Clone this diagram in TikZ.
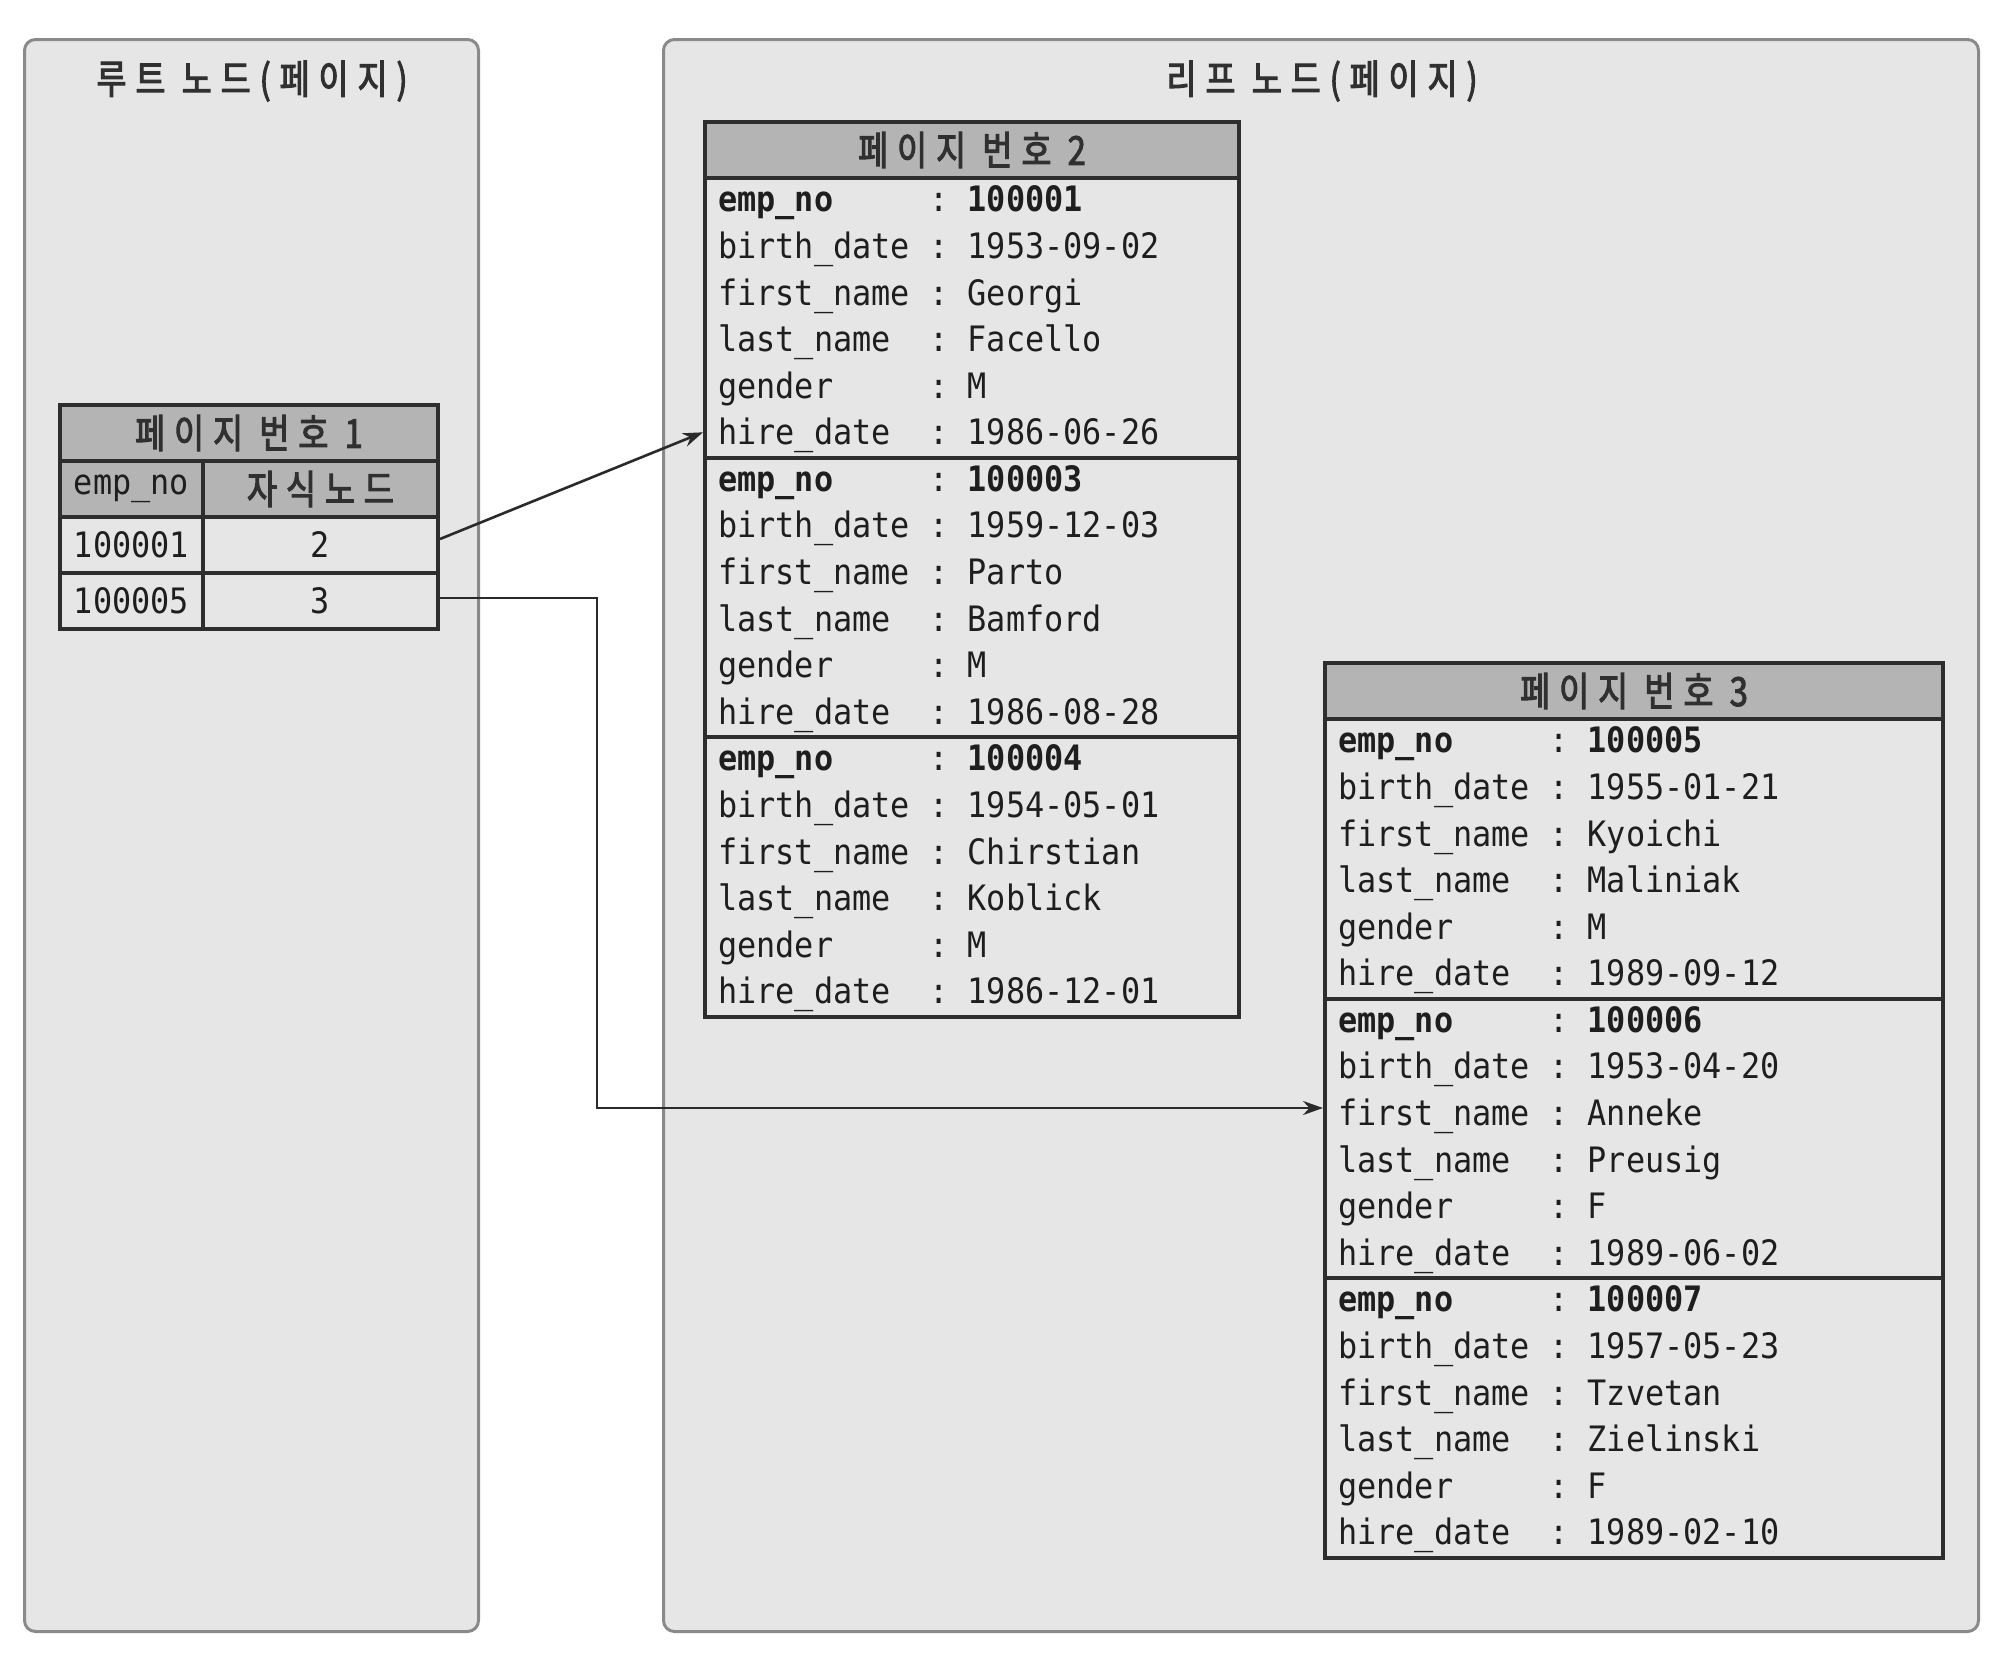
\documentclass[tikz,border=0pt]{standalone}
\usepackage{fontspec}
\usetikzlibrary{arrows.meta}
\newfontfamily\krfont[FakeStretch=0.82, FakeBold=2.5, LetterSpace=22]{Noto Sans CJK KR}
\newfontfamily\monofont[FakeStretch=0.91]{DejaVu Sans Mono}
\definecolor{panelfill}{HTML}{E6E6E6}
\definecolor{panelline}{HTML}{8A8A8A}
\definecolor{tblline}{HTML}{2E2E2E}
\definecolor{hdrfill}{HTML}{B4B4B4}
\definecolor{txt}{HTML}{1E1E1E}
\definecolor{ttl}{HTML}{303030}
\definecolor{connc}{HTML}{2A2A2A}
\tikzset{
  panel/.style={draw=panelline, fill=panelfill, line width=3pt, rounded corners=11pt, inner sep=0pt, anchor=north west},
  tbl/.style={draw=tblline, fill=panelfill, line width=4pt, inner sep=0pt, anchor=north west, text=txt},
  hdr/.style={tbl, fill=hdrfill},
  celltext/.style={font=\monofont\fontsize{35}{40}\selectfont},
  krtext/.style={font=\krfont\fontsize{40}{44}\selectfont, text=ttl},
  ttltext/.style={font=\krfont\fontsize{40}{44}\selectfont, text=ttl, inner sep=0pt},
  ln/.style={anchor=west, inner sep=0pt, text height=30pt, text depth=5pt, text=txt,
    font=\monofont\fontsize{35}{40}\selectfont},
  conn/.style={draw=connc, line width=2.6pt, -{Stealth[length=20pt,width=14pt]}},
}
\newcommand\mkrec[5]{%
  \node[tbl, minimum width=#4pt, minimum height=279.5pt] (#1) at (#2,#3) {};
  \foreach [count=\i] \k/\v in {#5} {
    \node[ln] (#1l\i) at ({#2+15},{#3+23.3+46.6*(\i-1)})
      {\makebox[211pt][l]{\k}\makebox[38.5pt][l]{:}\v};
  }
}
\begin{document}
\begin{tikzpicture}[x=1pt,y=-1pt]
\useasboundingbox (0,0) rectangle (2000,1655);
\fill[white] (0,0) rectangle (2000,1655);

% panels
\node[panel, minimum width=454pt, minimum height=1592pt] (lp) at (23,38) {};
\node[panel, minimum width=1315pt, minimum height=1592pt] (rp) at (662,38) {};
\node[ttltext] (t1) at (252,81) {루트 노드(페이지)};
\node[ttltext] (t2) at (1322,81) {리프 노드(페이지)};

% page 1
\node[hdr, krtext, minimum width=378pt, minimum height=56pt] (p1h) at (58,403) {페이지 번호 1};
\node[hdr, celltext, minimum width=143pt, minimum height=56pt] (c21) at (58,459) {emp\_no};
\node[hdr, krtext, minimum width=235pt, minimum height=56pt] (c22) at (201,459) {자식노드};
\node[tbl, celltext, minimum width=143pt, minimum height=56pt] (c31) at (58,515) {100001};
\node[tbl, celltext, minimum width=235pt, minimum height=56pt] (c32) at (201,515) {2};
\node[tbl, celltext, minimum width=143pt, minimum height=56pt] (c41) at (58,571) {100005};
\node[tbl, celltext, minimum width=235pt, minimum height=56pt] (c42) at (201,571) {3};

% page 2
\node[hdr, krtext, minimum width=534pt, minimum height=56pt] (p2h) at (703,120) {페이지 번호 2};
\mkrec{r21}{703}{176}{534}{{\bfseries emp\_no}/{\bfseries 100001}, birth\_date/1953-09-02, first\_name/Georgi, last\_name/Facello, gender/M, hire\_date/1986-06-26}
\mkrec{r22}{703}{455.5}{534}{{\bfseries emp\_no}/{\bfseries 100003}, birth\_date/1959-12-03, first\_name/Parto, last\_name/Bamford, gender/M, hire\_date/1986-08-28}
\mkrec{r23}{703}{735}{534}{{\bfseries emp\_no}/{\bfseries 100004}, birth\_date/1954-05-01, first\_name/Chirstian, last\_name/Koblick, gender/M, hire\_date/1986-12-01}

% page 3
\node[hdr, krtext, minimum width=618pt, minimum height=56pt] (p3h) at (1323,661) {페이지 번호 3};
\mkrec{r31}{1323}{717}{618}{{\bfseries emp\_no}/{\bfseries 100005}, birth\_date/1955-01-21, first\_name/Kyoichi, last\_name/Maliniak, gender/M, hire\_date/1989-09-12}
\mkrec{r32}{1323}{996.5}{618}{{\bfseries emp\_no}/{\bfseries 100006}, birth\_date/1953-04-20, first\_name/Anneke, last\_name/Preusig, gender/F, hire\_date/1989-06-02}
\mkrec{r33}{1323}{1276}{618}{{\bfseries emp\_no}/{\bfseries 100007}, birth\_date/1957-05-23, first\_name/Tzvetan, last\_name/Zielinski, gender/F, hire\_date/1989-02-10}

% connectors
\draw[conn] ([yshift=6pt]c32.east) -- (r21.west |- r21l6.center);
\coordinate (k) at (597,1108);
\draw[conn] ([yshift=3pt]c42.east) -| (k) -- (k -| r32.west);
\end{tikzpicture}
\end{document}
